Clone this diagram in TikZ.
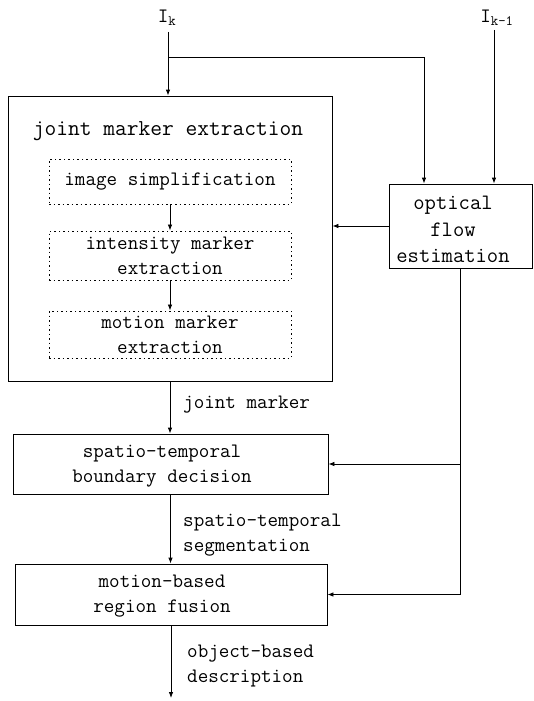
\documentclass[tikz,border=0pt]{standalone}
\usepackage{fontspec}
\usetikzlibrary{arrows.meta}
\begin{document}
\begin{tikzpicture}[x=1pt,y=-1pt,
  every node/.style={font=\ttfamily\fontsize{20.5}{25}\selectfont, inner sep=0pt},
  box/.style={draw, line width=0.8pt},
  dbox/.style={draw, dash pattern=on 1.5pt off 3pt, line width=0.9pt, align=center},
  txt/.style={align=center},
  lbl/.style={align=left, anchor=west},
  arr/.style={line width=0.8pt, -{Latex[length=6pt,width=4.5pt]}}]
\useasboundingbox (0,0) rectangle (534,701);
% boxes
\node[box, minimum width=324pt, minimum height=285pt] (big) at (170,238.5) {};
\node[font=\ttfamily\fontsize{22.8}{25}\selectfont] (title) at (168,131) {joint marker extraction};
\node[dbox, minimum width=242pt, minimum height=45pt] (simp) at (170,181.5) {image simplification};
\node[dbox, minimum width=242pt, minimum height=49pt] (int) at (170,255.5) {intensity marker\\extraction};
\node[dbox, minimum width=242pt, minimum height=47pt] (mot) at (170,334.5) {motion marker\\extraction};
\node[box, minimum width=143pt, minimum height=84pt] (opt) at (460.5,226) {};
\node[txt, font=\ttfamily\fontsize{22}{26.5}\selectfont] (opttxt) at (453,229.5) {optical\\flow\\estimation};
\node[box, minimum width=315pt, minimum height=60pt] (spt) at (170.5,464) {};
\node[txt] (spttxt) at (162,466) {spatio-temporal\\boundary decision};
\node[box, minimum width=312pt, minimum height=61pt] (fus) at (171,594.5) {};
\node[txt] (fustxt) at (162,596) {motion-based\\region fusion};
% inputs
\node (iklab) at (167,18) {I\textsubscript{k}};
\node (ik1lab) at (497,18) {I\textsubscript{k-1}};
\coordinate (ik) at (168,32);
\coordinate (br) at (168,57);
\coordinate (c1) at (424,57);
\coordinate (ik1) at (494,30);
\coordinate (out) at (170,698);
% labels
\node[lbl] (l1) at (183,405) {joint marker};
\node[lbl] (l2) at (183,535) {spatio-temporal\\segmentation};
\node[lbl] (l3) at (187,666) {object-based\\description};
% connectors
\draw[arr] (ik) -- (ik |- big.north);
\draw[arr] (br) -- (c1) -- (c1 |- opt.north);
\draw[arr] (ik1) -- (ik1 |- opt.north);
\draw[arr] (opt.west) -- (opt.west -| big.east);
\draw[arr] (simp.south) -- (int.north);
\draw[arr] (int.south) -- (mot.north);
\draw[arr] (big.south) -- (big.south |- spt.north);
\draw[arr] (spt.south) -- (spt.south |- fus.north);
\draw[arr] (fus.south) -- (fus.south |- out);
\draw[arr] (opt.south) |- (fus.east);
\draw[arr] (opt.south |- spt.east) -- (spt.east);
\end{tikzpicture}
\end{document}
